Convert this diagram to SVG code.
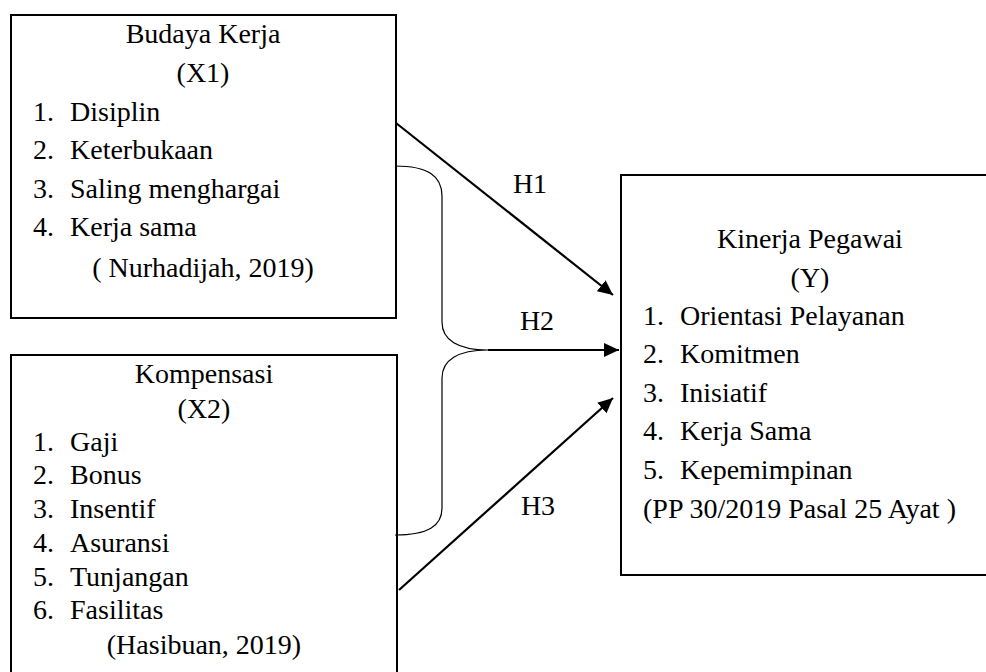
<svg xmlns="http://www.w3.org/2000/svg" width="986" height="672" viewBox="0 0 986 672" font-family="Liberation Serif, Tinos, DejaVu Serif, serif">
<style>
.box{fill:#fff;stroke:#000;stroke-width:2}
.t{font-family:'Liberation Serif','Tinos','DejaVu Serif',serif;font-size:28px;fill:#000}
.c{text-anchor:middle}
.arr{stroke:#000;stroke-width:2.2;fill:none}
.brace{stroke:#000;stroke-width:1.2;fill:none}
</style>
<defs>
<marker id="ah" markerUnits="userSpaceOnUse" markerWidth="16" markerHeight="14" refX="15" refY="7" orient="auto">
<path d="M0,0 L15,7 L0,14 z" fill="#000"/>
</marker>
</defs>
<rect width="986" height="672" fill="#fff"/>
<g id="budaya-kerja" class="t">
<rect class="box" x="11" y="15" width="385" height="303"/>
<text class="c" x="203" y="43">Budaya Kerja</text>
<text class="c" x="203" y="82">(X1)</text>
<text x="33" y="121">1.</text><text x="70" y="121">Disiplin</text>
<text x="33" y="159">2.</text><text x="70" y="159">Keterbukaan</text>
<text x="33" y="198">3.</text><text x="70" y="198">Saling menghargai</text>
<text x="33" y="236">4.</text><text x="70" y="236">Kerja sama</text>
<text class="c" x="203" y="277">( Nurhadijah, 2019)</text>
</g>
<g id="kompensasi" class="t">
<rect class="box" x="11" y="355" width="386" height="340"/>
<text class="c" x="204" y="383">Kompensasi</text>
<text class="c" x="204" y="418">(X2)</text>
<text x="33" y="451">1.</text><text x="70" y="451">Gaji</text>
<text x="33" y="484">2.</text><text x="70" y="484">Bonus</text>
<text x="33" y="518">3.</text><text x="70" y="518">Insentif</text>
<text x="33" y="552">4.</text><text x="70" y="552">Asuransi</text>
<text x="33" y="586">5.</text><text x="70" y="586">Tunjangan</text>
<text x="33" y="619">6.</text><text x="70" y="619">Fasilitas</text>
<text class="c" x="204" y="654">(Hasibuan, 2019)</text>
</g>
<g id="kinerja-pegawai" class="t">
<rect class="box" x="621" y="175" width="400" height="400"/>
<text class="c" x="810" y="248">Kinerja Pegawai</text>
<text class="c" x="810" y="287">(Y)</text>
<text x="643" y="325">1.</text><text x="680" y="325">Orientasi Pelayanan</text>
<text x="643" y="363">2.</text><text x="680" y="363">Komitmen</text>
<text x="643" y="402">3.</text><text x="680" y="402">Inisiatif</text>
<text x="643" y="440">4.</text><text x="680" y="440">Kerja Sama</text>
<text x="643" y="479">5.</text><text x="680" y="479">Kepemimpinan</text>
<text x="643" y="518">(PP 30/2019 Pasal 25 Ayat )</text>
</g>
<g id="connectors" class="t">
<path class="brace" d="M395,166 C428,166 442,176 442,196 L442,322 C442,340 458,350 488,350 C458,350 442,360 442,378 L442,508 C442,526 428,535 395,535"/>
<line class="arr" x1="396" y1="123" x2="613" y2="295" marker-end="url(#ah)"/>
<line class="arr" x1="488" y1="350" x2="619" y2="350" marker-end="url(#ah)"/>
<line class="arr" x1="399" y1="590" x2="613" y2="398" marker-end="url(#ah)"/>
<text class="c" x="530" y="193">H1</text>
<text class="c" x="537" y="330">H2</text>
<text class="c" x="538" y="515">H3</text>
</g>
</svg>
